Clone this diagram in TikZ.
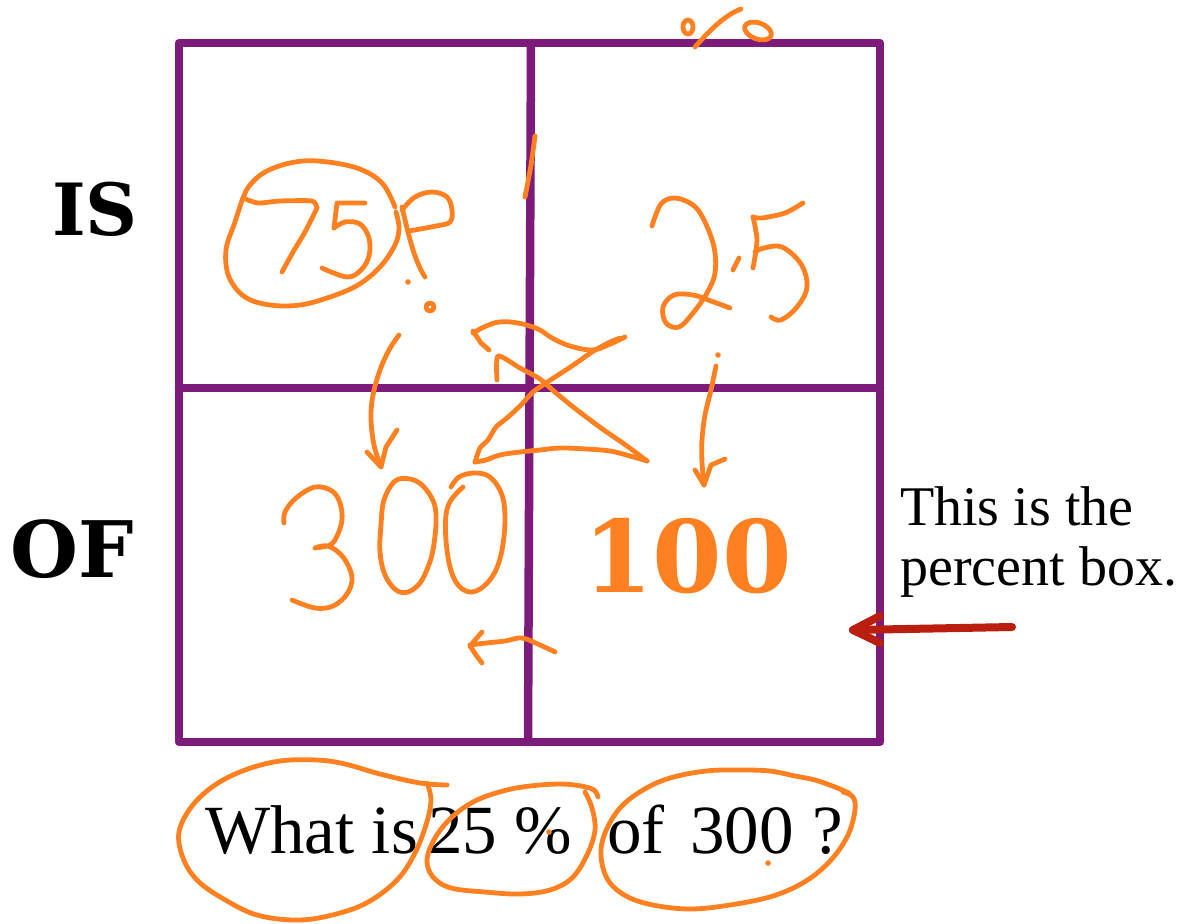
\documentclass[tikz,border=0pt]{standalone}
\usepackage{fontspec}
\setmainfont{Liberation Serif}
\newfontfamily\labfont{DejaVu Serif}[BoldFont={DejaVu Serif Bold}]
\definecolor{gridpurple}{RGB}{124,27,122}
\definecolor{pen}{RGB}{255,128,32}
\definecolor{redarrow}{RGB}{186,30,14}
\tikzset{
  gridline/.style={draw=gridpurple, line width=8.5pt, line cap=round, line join=round},
  ink/.style={draw=pen, line width=4.8pt, line cap=round, line join=round},
  inkdot/.style={fill=pen},
  redline/.style={draw=redarrow, line width=8pt, line cap=round, line join=round},
  rowlabel/.style={inner sep=0pt, anchor=base west, font=\labfont\bfseries\fontsize{72}{72}\selectfont},
  bodytext/.style={inner sep=0pt, anchor=base west, font=\fontsize{56}{56}\selectfont},
  question/.style={inner sep=0pt, anchor=base west, font=\fontsize{69}{69}\selectfont},
}
\begin{document}
\begin{tikzpicture}[x=1pt,y=-1pt]
\useasboundingbox[fill=white] (0,0) rectangle (1192,924);

% grid
\draw[gridline] (179,43) rectangle (880,742);
\draw[gridline] (179,388) -- (880,388);
\draw[gridline] (531,43) -- (528,742);

% labels
\node[rowlabel] (is) at (52,235) {IS};
\node[rowlabel, font=\labfont\bfseries\fontsize{78}{78}\selectfont] (of) at (10,577) {OF};
\node[rowlabel, text=pen, font=\labfont\bfseries\fontsize{100}{100}\selectfont] (hundred) at (583,592) {100};
\node[bodytext] (note1) at (900,525) {This is the};
\node[bodytext] (note2) at (900,585) {percent box.};

\node[question] (q1) at (205,853) {What is};
\node[question] (q2) at (428,853) {25 \%};
\node[question] (q3) at (607,853) {of};
\node[question] (q4) at (690,853) {300};
\node[question] (q5) at (812,853) {?};

% red arrow
\coordinate (rtail) at (1012,627);
\coordinate (rtip) at (853,630);
\draw[redline] (rtail) -- (rtip);
\draw[redline] (880,616) -- (rtip) -- (880,643);

% percent sign at top
\draw[ink] (688,27) ellipse (5 and 7);
\draw[ink] (695,47) .. controls (710,30) and (725,15) .. (741,9);
\draw[ink, rotate around={-20:(758,31)}] (758,31) ellipse (14 and 8);

% circle around 75
\draw[ink] plot[smooth, tension=0.6] coordinates {(395,207) (382,183) (357,168) (318,161) (290,163) (265,172) (250,185) (243,198) (235,222) (226,250) (229,277) (245,297) (270,305) (300,305) (330,297) (358,285) (380,267) (395,245) (399,228) (396,212)};
% 7
\draw[ink] plot[smooth, tension=0.4] coordinates {(243,198) (258,203) (280,201) (312,201) (317,208)};
\draw[ink] plot[smooth, tension=0.4] coordinates {(317,208) (305,232) (293,252) (282,272)};
% 5
\draw[ink] (365,203) -- (337,203) -- (334,228);
\draw[ink] plot[smooth, tension=0.6] coordinates {(334,228) (345,222) (360,224) (369,238) (369,256) (361,270) (347,277) (322,268)};
% P
\draw[ink] plot[smooth, tension=0.5] coordinates {(402,207) (408,232) (414,253) (420,268) (425,277)};
\draw[ink] plot[smooth, tension=0.6] coordinates {(402,210) (415,197) (432,192) (447,197) (452,210) (450,222) (436,226) (409,231)};
\fill[inkdot] (408,282) circle (2.8);
\draw[ink] (430,307) circle (4);

% stroke near the middle line
\draw[ink] plot[smooth] coordinates {(535,136) (531,165) (525,197)};

% 2 (in 25)
\draw[ink] plot[smooth, tension=0.6] coordinates {(652,226) (661,204) (675,198) (693,205) (704,220) (714,247) (715,273) (707,293) (693,313) (679,327) (666,323) (663,307) (674,295) (693,295) (711,301) (730,308)};
\draw[ink] (739,258) -- (733,270);
% 5 (in 25)
\draw[ink] plot[smooth, tension=0.5] coordinates {(803,203) (785,213) (762,218) (753,217)};
\draw[ink] plot[smooth, tension=0.5] coordinates {(753,217) (757,240) (753,268)};
\draw[ink] plot[smooth, tension=0.6] coordinates {(755,252) (764,248) (782,247) (801,264) (807,287) (797,307) (781,320) (771,317)};

% arrow 75 -> 300
\draw[ink] plot[smooth, tension=0.6] coordinates {(399,335) (389,350) (380,370) (373,395) (371,418) (374,445) (381,467)};
\draw[ink] (367,452) -- (381,467) -- (386,447) -- (397,430);

% arrow 25 -> 100
\fill[inkdot] (718,355) circle (2.8);
\draw[ink] plot[smooth, tension=0.6] coordinates {(716,366) (711,390) (705,415) (702,440) (702,462) (704,485)};
\draw[ink] (695,470) -- (704,485) -- (711,465) -- (725,459);

% hourglass strokes in the middle
\draw[ink] plot[smooth, tension=0.6] coordinates {(625,337) (608,345) (592,350) (570,346) (552,338) (538,329) (518,323) (499,322) (484,327) (473,333)};
\draw[ink] (473,331) -- (481,343) -- (489,350);
\draw[ink] plot[smooth, tension=0.4] coordinates {(497,380) (498,356) (520,368) (540,379) (556,393) (577,410) (601,428) (627,446) (647,461)};
\draw[ink] plot[smooth, tension=0.6] coordinates {(647,461) (630,456) (610,451) (586,449) (560,448) (540,450) (520,452) (500,455) (486,460) (475,462)};
\draw[ink] plot[smooth, tension=0.4] coordinates {(475,462) (480,448) (488,440) (496,427) (507,418) (521,405) (533,392) (552,379) (572,366) (592,352) (608,343) (620,338)};

% bottom small arrow
\draw[ink] plot[smooth, tension=0.6] coordinates {(555,652) (540,645) (522,638) (505,641) (486,643) (470,645)};
\draw[ink] (482,632) -- (470,646) -- (476,655) -- (482,663);

% handwritten 300
\draw[ink] plot[smooth, tension=0.6] coordinates {(284,523) (285,512) (296,498) (315,487) (332,491) (340,503) (342,520) (337,536) (330,545) (315,548) (328,546) (343,557) (352,577) (347,594) (333,606) (315,608) (292,600)};
\draw[ink] plot[smooth cycle, tension=0.6] coordinates {(395,481) (410,479) (423,486) (434,503) (436,523) (433,550) (428,567) (420,583) (408,592) (396,590) (385,575) (380,552) (381,525) (384,500)};
\draw[ink] plot[smooth, tension=0.6] coordinates {(451,487) (459,477) (474,473) (490,477) (502,495) (505,520) (502,550) (495,572) (483,587) (470,592) (458,585) (450,567) (446,540) (446,515) (451,500) (463,487)};

% ellipses around the question
\draw[ink] plot[smooth, tension=0.6] coordinates {(447,785) (420,783) (380,774) (345,764) (317,760) (280,761) (245,770) (215,785) (192,806) (179,832) (183,858) (197,880) (222,898) (257,915) (300,920) (340,913) (370,901) (397,880) (414,855) (426,825) (431,800) (427,783)};
\draw[ink] plot[smooth, tension=0.6] coordinates {(598,797) (594,790) (581,786) (560,784) (530,786) (503,791) (475,801) (452,817) (435,838) (427,860) (433,877) (451,888) (485,892) (520,894) (550,890) (572,878) (587,855) (595,830) (592,808) (585,792)};
\draw[ink] plot[smooth, tension=0.6] coordinates {(849,793) (835,787) (815,780) (795,776) (770,771) (740,770) (706,771) (670,778) (643,790) (620,808) (605,833) (601,856) (608,880) (626,896) (653,905) (690,909) (730,905) (773,896) (806,881) (831,860) (848,835) (855,810) (853,797) (843,792)};
\fill[inkdot] (549,832) circle (2.8);
\fill[inkdot] (768,863) circle (2.8);
\end{tikzpicture}
\end{document}
